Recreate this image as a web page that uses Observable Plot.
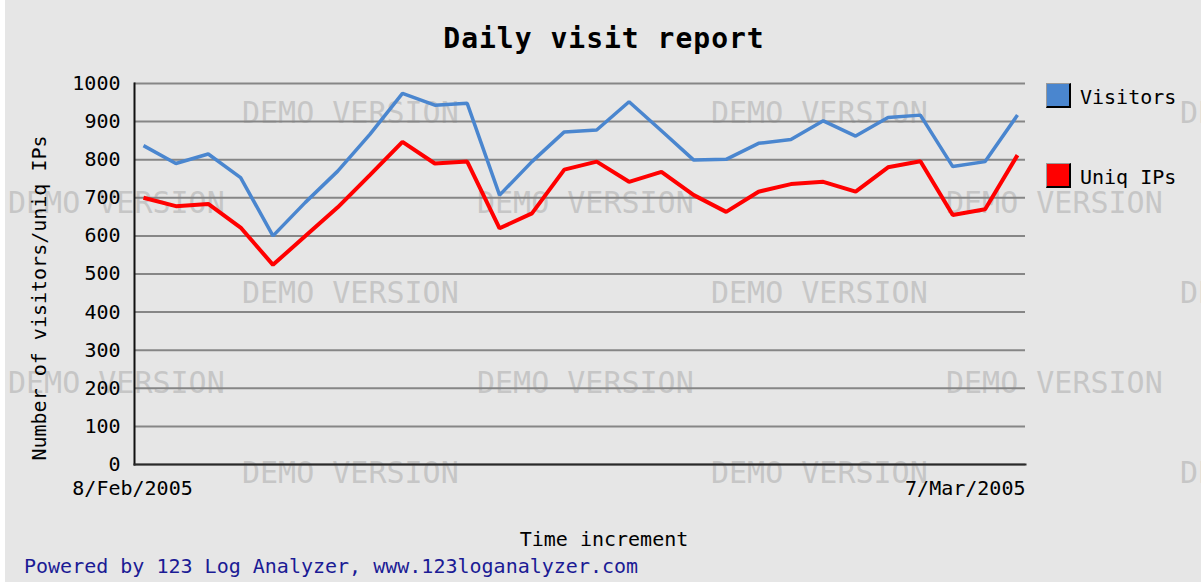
<!DOCTYPE html>
<html>
<head>
<meta charset="utf-8">
<script src="https://cdn.jsdelivr.net/npm/d3@7"></script>
<script src="https://cdn.jsdelivr.net/npm/@observablehq/plot@0.6"></script>
<style>
  html, body { margin: 0; padding: 0; background: #ffffff; }
  #wrap { position: relative; width: 1201px; height: 582px; background: #e6e6e6; overflow: hidden;
          font-family: "DejaVu Sans Mono", "Liberation Mono", monospace; color: #000; }
  #strip { position: absolute; left: 0; top: 0; width: 5px; height: 582px; background: #fff; }
  .t { position: absolute; white-space: pre; line-height: 1; }
  .c { transform: translate(-50%, -50%); }
  .l { transform: translate(0, -50%); }
  .wm { position: absolute; white-space: pre; line-height: 1; font-size: 30px; color: #c6c6c6;
        transform: translate(0, -50%); }
  #chart { position: absolute; left: 0; top: 0; }
  .sw { position: absolute; width: 25px; height: 25px; box-sizing: border-box;
        border-top: 1px solid #9a9a9a; border-left: 1px solid #9a9a9a;
        border-right: 2px solid #000; border-bottom: 2px solid #000; }
</style>
</head>
<body>
<div id="wrap">
  <div id="wm"></div>
  <div id="chart"></div>
  <div id="strip"></div>
  <div id="legend"></div>
  <div class="t c" id="title" style="left:604px; top:39px; font-size:28px; font-weight:bold; letter-spacing:1px;"></div>
  <div class="t c" id="ylabel" style="left:39px; top:298px; font-size:20px; transform: translate(-50%,-50%) rotate(-90deg);"></div>
  <div class="t c" id="xlabel" style="left:604px; top:539px; font-size:20px;"></div>
  <div class="t l" id="footer" style="left:24px; top:566px; font-size:20px; color:#1b1b95;"></div>
</div>
<script>
// ---- data ----
const days = [
  "2005-02-08","2005-02-09","2005-02-10","2005-02-11","2005-02-12","2005-02-13","2005-02-14",
  "2005-02-15","2005-02-16","2005-02-17","2005-02-18","2005-02-19","2005-02-20","2005-02-21",
  "2005-02-22","2005-02-23","2005-02-24","2005-02-25","2005-02-26","2005-02-27","2005-02-28",
  "2005-03-01","2005-03-02","2005-03-03","2005-03-04","2005-03-05","2005-03-06","2005-03-07"
];
const visitors = [837, 790, 815, 753, 600, 688, 770, 867, 974, 943, 948, 707, 795, 873,
                  878, 952, 876, 799, 801, 843, 853, 902, 862, 911, 917, 782, 795, 917];
const uniqIPs  = [700, 678, 684, 622, 524, 600, 675, 760, 847, 790, 795, 620, 659, 774,
                  795, 742, 768, 707, 663, 716, 736, 742, 716, 780, 796, 655, 670, 812];
const seriesNames = ["Visitors", "Uniq IPs"];
const yTicks = [0, 100, 200, 300, 400, 500, 600, 700, 800, 900, 1000];
const xTickLabels = ["8/Feb/2005", "7/Mar/2005"];
const titleText = "Daily visit report";
const yLabelText = "Number of visitors/uniq IPs";
const xLabelText = "Time increment";
const footerText = "Powered by 123 Log Analyzer, www.123loganalyzer.com";
const watermarkText = "DEMO VERSION";

// ---- styles ----
const seriesColors = ["#4a86cf", "#ff0000"];
const seriesWidths = [3.5, 4];
const FONT = "DejaVu Sans Mono, Liberation Mono, monospace";

// ---- build ----
const dates = days.map(d => new Date(d));
const seriesValues = [visitors, uniqIPs];
const rows = seriesNames.map((name, s) => dates.map((date, i) => ({date, value: seriesValues[s][i], series: name})));

const first = dates[0], last = dates[dates.length - 1];

const chart = Plot.plot({
  width: 1201,
  height: 582,
  marginLeft: 134,
  marginRight: 176,
  marginTop: 83,
  marginBottom: 118,
  style: {background: "transparent", fontFamily: FONT, fontSize: "20px", color: "#000", overflow: "visible"},
  x: {type: "utc", domain: [first, last], insetLeft: 9, insetRight: 8},
  y: {domain: [0, 1000]},
  marks: [
    Plot.gridY(yTicks, {stroke: "#868686", strokeOpacity: 1, strokeWidth: 2}),
    Plot.frame({anchor: "left", stroke: "#111", strokeWidth: 2}),
    Plot.frame({anchor: "bottom", stroke: "#2a2a2a", strokeWidth: 2}),
    Plot.axisY(yTicks, {tickSize: 0, tickPadding: 14, label: null, tickFormat: d => String(d),
                        fontSize: 20, fontFamily: FONT, fill: "#000"}),
    Plot.axisX([first], {tickSize: 0, tickPadding: 16, label: null, tickFormat: () => xTickLabels[0],
                         textAnchor: "middle", dx: -11, fontSize: 20, fontFamily: FONT, fill: "#000"}),
    Plot.axisX([last], {tickSize: 0, tickPadding: 16, label: null, tickFormat: () => xTickLabels[1],
                        textAnchor: "end", dx: 8, fontSize: 20, fontFamily: FONT, fill: "#000"}),
    ...rows.map((r, s) => Plot.lineY(r, {x: "date", y: "value", stroke: seriesColors[s],
                                          strokeWidth: seriesWidths[s], strokeLinejoin: "miter", strokeLinecap: "butt"}))
  ]
});
document.getElementById("chart").appendChild(chart);

// ---- texts ----
document.getElementById("title").textContent = titleText;
document.getElementById("ylabel").textContent = yLabelText;
document.getElementById("xlabel").textContent = xLabelText;
document.getElementById("footer").textContent = footerText;

// ---- legend ----
const legend = document.getElementById("legend");
seriesNames.forEach((name, s) => {
  const top = 83 + s * 80;
  const sw = document.createElement("div");
  sw.className = "sw";
  sw.style.left = "1046px";
  sw.style.top = top + "px";
  sw.style.background = seriesColors[s];
  legend.appendChild(sw);
  const tx = document.createElement("div");
  tx.className = "t l";
  tx.style.left = "1080px";
  tx.style.top = (top + 14) + "px";
  tx.style.fontSize = "20px";
  tx.textContent = name;
  legend.appendChild(tx);
});

// ---- watermark ----
const wm = document.getElementById("wm");
for (let r = 0; r < 5; r++) {
  const y = 113 + r * 90;
  const x0 = r % 2 === 0 ? 242 : 8;
  for (let k = 0; k < 3; k++) {
    const d = document.createElement("div");
    d.className = "wm";
    d.style.left = (x0 + k * 469) + "px";
    d.style.top = y + "px";
    d.textContent = watermarkText;
    wm.appendChild(d);
  }
}
</script>
</body>
</html>
